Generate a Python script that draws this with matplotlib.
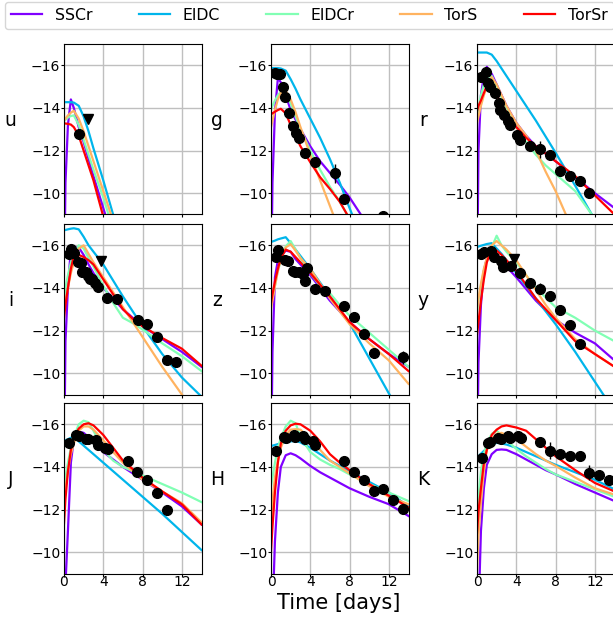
import numpy as np
import matplotlib
matplotlib.use("Agg")
from matplotlib import pyplot as plt

bands = ["u", "g", "r", "i", "z", "y", "J", "H", "K"]
model_names = ["SSCr", "EIDC", "EIDCr", "TorS", "TorSr"]

t_grid = [0, 0.15, 0.4, 0.7, 1.0, 1.5, 2.0, 2.5, 3.0, 4.0, 5.0, 6.0, 7.0, 8.0, 10.0, 12.0, 14.0]

sscr = {
    "u": [-5, -10.5, -13.2, -14.4, -14.0, -13.1, -12.4, -11.6, -10.8, -9.3, -7.8, -6.3, -5, -4, -3, -2, -1],
    "g": [-5, -10.5, -13.8, -15.4, -15.2, -14.6, -13.9, -13.45, -13.0, -12.2, -11.5, -10.95, -10.4, -9.8, -8.4, -7.5, -6.5],
    "r": [-5, -12.0, -14.6, -15.5, -15.93, -15.6, -15.1, -14.6, -14.1, -13.3, -12.7, -12.2, -11.85, -11.5, -10.75, -10.0, -9.3],
    "i": [-5, -11.5, -14.0, -15.85, -15.9, -15.9, -15.55, -15.1, -14.7, -14.0, -13.5, -13.0, -12.6, -12.2, -11.6, -11.0, -10.3],
    "z": [-5, -11.0, -14.5, -15.3, -15.5, -15.75, -15.7, -15.35, -15.1, -14.6, -14.0, -13.4, -12.9, -12.4, -11.6, -10.9, -10.3],
    "y": [-5, -10.5, -13.2, -14.8, -15.4, -15.87, -15.6, -15.3, -15.0, -14.5, -13.95, -13.4, -12.95, -12.5, -11.9, -11.4, -10.6],
    "J": [-5, -8.5, -11.0, -14.2, -15.3, -15.65, -15.6, -15.4, -15.2, -14.7, -14.35, -14.0, -13.7, -13.4, -12.8, -12.15, -11.3],
    "H": [-5, -7.0, -10.5, -12.8, -14.0, -14.55, -14.64, -14.55, -14.4, -14.05, -13.75, -13.5, -13.25, -13.0, -12.6, -12.25, -11.7],
    "K": [-5, -7.0, -11.0, -13.0, -14.1, -14.6, -14.8, -14.82, -14.8, -14.6, -14.35, -14.1, -13.85, -13.65, -13.2, -12.8, -12.4],
}
eidc = {
    "u": [-14.27, -14.27, -14.27, -14.27, -14.25, -14.1, -13.6, -12.9, -12.1, -10.6, -9.0, -7.5, -6, -5, -3, -1, 1],
    "g": [-15.87, -15.87, -15.87, -15.87, -15.85, -15.75, -15.35, -14.9, -14.4, -13.5, -12.6, -11.6, -10.5, -9.3, -7, -5, -3],
    "r": [-16.6, -16.6, -16.6, -16.6, -16.6, -16.5, -16.2, -15.85, -15.5, -14.8, -14.1, -13.4, -12.65, -11.9, -10.35, -8.75, -7],
    "i": [-16.7, -16.72, -16.75, -16.78, -16.8, -16.75, -16.4, -16.0, -15.7, -15.1, -14.35, -13.6, -12.9, -12.2, -10.9, -9.8, -8.9],
    "z": [-16.16, -16.18, -16.22, -16.28, -16.32, -16.38, -16.1, -15.8, -15.5, -14.9, -14.25, -13.6, -12.95, -12.35, -10.7, -9.05, -7.5],
    "y": [-15.92, -15.94, -15.98, -16.02, -16.06, -16.1, -15.85, -15.6, -15.3, -14.7, -14.1, -13.5, -12.9, -12.3, -11.0, -9.6, -8.2],
    "J": [-15.2, -15.25, -15.3, -15.37, -15.4, -15.2, -15.0, -14.8, -14.6, -14.2, -13.8, -13.4, -13.0, -12.6, -11.8, -10.95, -10.1],
    "H": [-14.98, -15.0, -15.03, -15.07, -15.1, -15.15, -15.2, -15.22, -15.15, -14.9, -14.6, -14.3, -14.05, -13.8, -13.3, -12.8, -12.15],
    "K": [-14.43, -14.5, -14.62, -14.75, -14.88, -15.05, -15.13, -15.1, -15.05, -14.9, -14.7, -14.5, -14.3, -14.1, -13.75, -13.4, -12.95],
}
eidcr = {
    "u": [-13.38, -13.45, -13.55, -13.62, -13.65, -13.2, -12.5, -11.8, -11.1, -9.8, -8.3, -7, -6, -5, -3, -1, 1],
    "g": [-13.93, -14.1, -14.35, -14.6, -14.75, -14.75, -14.2, -13.6, -13.0, -12.0, -11.1, -10.3, -9.6, -8.8, -7, -5, -3],
    "r": [-13.6, -14.0, -14.6, -15.1, -15.45, -15.5, -15.0, -14.5, -14.0, -13.1, -12.4, -11.8, -11.3, -10.9, -10.1, -8.8, -7.5],
    "i": [-13.5, -14.0, -14.6, -15.2, -15.6, -16.0, -15.85, -15.4, -15.0, -14.1, -13.3, -12.6, -12.35, -12.05, -11.4, -10.8, -10.1],
    "z": [-13.2, -13.5, -14.1, -14.8, -15.3, -15.95, -16.2, -15.8, -15.4, -14.7, -14.1, -13.75, -13.2, -12.7, -11.9, -11.1, -10.3],
    "y": [-12.9, -13.4, -14.1, -14.8, -15.3, -15.9, -16.45, -16.0, -15.7, -15.2, -14.6, -14.0, -13.55, -13.1, -12.6, -12.0, -11.5],
    "J": [-13.1, -13.5, -14.2, -14.9, -15.4, -16.0, -16.17, -16.1, -15.7, -14.8, -14.3, -14.0, -13.8, -13.6, -13.2, -12.8, -12.35],
    "H": [-13.1, -13.5, -14.2, -14.9, -15.35, -15.9, -16.17, -16.05, -15.4, -14.7, -14.35, -14.1, -13.9, -13.65, -13.2, -12.8, -12.4],
    "K": [-11.85, -12.6, -13.8, -14.6, -15.1, -15.55, -15.7, -15.5, -15.25, -14.85, -14.5, -14.2, -13.9, -13.65, -13.3, -12.95, -12.6],
}
tors = {
    "u": [-13.4, -13.5, -13.65, -13.78, -13.87, -13.5, -12.9, -12.2, -11.5, -10.1, -8.7, -7.3, -6, -5, -3, -1, 1],
    "g": [-13.1, -13.4, -13.9, -14.4, -14.7, -14.8, -14.4, -13.8, -13.1, -11.8, -10.6, -9.4, -8.2, -7, -5, -3, -1],
    "r": [-13.3, -13.6, -14.1, -14.6, -15.0, -15.45, -15.1, -14.6, -14.1, -13.3, -12.7, -12.0, -11.0, -10.1, -8.0, -6, -4],
    "i": [-13.0, -13.4, -14.0, -14.7, -15.2, -15.85, -16.0, -15.6, -15.2, -14.5, -13.8, -13.1, -12.4, -11.7, -10.3, -9.0, -7.7],
    "z": [-13.0, -13.4, -14.1, -14.8, -15.35, -15.9, -16.05, -15.75, -15.4, -14.9, -14.2, -13.5, -12.9, -12.3, -11.4, -10.6, -9.5],
    "y": [-13.0, -13.5, -14.2, -14.9, -15.4, -16.0, -16.2, -16.0, -15.8, -15.3, -14.6, -13.9, -13.2, -12.6, -11.6, -10.9, -10.3],
    "J": [-12.5, -13.0, -13.8, -14.6, -15.1, -15.7, -15.9, -15.9, -15.75, -15.25, -14.7, -14.2, -13.8, -13.4, -12.85, -12.3, -11.4],
    "H": [-11.5, -12.4, -13.5, -14.3, -14.9, -15.5, -15.75, -15.77, -15.75, -15.3, -14.8, -14.3, -14.0, -13.7, -13.1, -12.6, -12.25],
    "K": [-9.2, -10.8, -12.3, -13.8, -14.8, -15.3, -15.55, -15.6, -15.5, -15.3, -14.95, -14.6, -14.3, -14.05, -13.5, -13.0, -12.7],
}
torsr = {
    "u": [-13.27, -13.27, -13.25, -13.22, -13.1, -12.7, -12.0, -11.3, -10.6, -8.9, -7.5, -6, -5, -4, -2, 0, 2],
    "g": [-13.7, -13.75, -13.82, -13.9, -13.96, -13.75, -13.2, -12.7, -12.2, -11.45, -10.75, -10.2, -9.6, -8.8, -7, -5, -3],
    "r": [-13.85, -14.1, -14.35, -14.7, -15.05, -14.95, -14.6, -14.2, -13.8, -13.1, -12.6, -12.2, -11.85, -11.5, -10.8, -9.9, -9.0],
    "i": [-12.6, -13.2, -14.0, -14.9, -15.5, -15.55, -15.45, -15.3, -15.1, -14.4, -13.7, -13.0, -12.55, -12.2, -11.65, -11.15, -10.35],
    "z": [-13.3, -13.7, -14.3, -14.9, -15.4, -15.8, -15.7, -15.45, -15.2, -14.7, -14.15, -13.6, -13.0, -12.4, -11.6, -10.9, -10.1],
    "y": [-11.8, -12.4, -13.4, -14.4, -15.2, -15.85, -15.75, -15.55, -15.3, -14.8, -14.15, -13.5, -13.0, -12.5, -11.5, -10.9, -10.3],
    "J": [-11.35, -12.5, -13.8, -14.8, -15.4, -15.8, -16.0, -16.05, -15.95, -15.5, -14.9, -14.3, -13.9, -13.5, -12.85, -12.25, -11.3],
    "H": [-10.05, -11.2, -12.8, -14.2, -15.1, -15.7, -15.95, -16.03, -16.0, -15.7, -15.2, -14.6, -14.2, -13.85, -13.2, -12.65, -12.1],
    "K": [-10.9, -11.9, -13.0, -14.2, -14.8, -15.5, -15.75, -15.9, -15.95, -15.85, -15.7, -15.3, -14.9, -14.5, -13.85, -13.25, -12.85],
}

# observed photometry
obs_t = {
    "u": [1.53],
    "g": [0.44, 0.64, 0.92, 1.25, 1.46, 1.86, 2.27, 2.51, 2.85, 3.46, 4.44, 6.47, 7.46, 11.4],
    "r": [0.44, 0.88, 1.12, 1.36, 1.87, 2.2, 2.38, 2.76, 3.16, 3.4, 4.1, 4.35, 5.44, 6.46, 7.48, 8.47, 9.46, 10.44, 11.43],
    "i": [0.51, 0.75, 0.98, 1.42, 1.7, 1.86, 2.27, 2.44, 2.68, 2.88, 3.12, 3.46, 4.4, 5.42, 7.49, 8.47, 9.49, 10.47, 11.42],
    "z": [0.47, 0.71, 1.39, 1.73, 2.2, 2.47, 2.88, 3.29, 3.49, 3.69, 4.44, 5.46, 7.46, 8.44, 9.46, 10.44, 13.42],
    "y": [0.37, 0.68, 1.43, 1.73, 2.41, 2.69, 3.47, 4.42, 5.44, 6.46, 7.45, 8.47, 9.46, 10.48],
    "J": [0.51, 1.22, 1.49, 2.2, 2.47, 3.25, 3.46, 4.17, 4.47, 6.47, 7.46, 8.47, 9.49, 10.47],
    "H": [0.47, 1.29, 1.49, 2.31, 2.47, 3.29, 3.49, 4.27, 4.47, 7.46, 8.47, 9.46, 10.44, 11.42, 12.41, 13.42],
    "K": [0.48, 1.12, 1.36, 2.14, 2.41, 3.16, 3.4, 4.18, 4.46, 6.46, 7.48, 8.47, 9.46, 10.44, 11.43, 12.45, 13.43],
}
obs_mag = {
    "u": [-12.77],
    "g": [-15.62, -15.6, -15.58, -15.0, -14.52, -13.75, -13.16, -12.83, -12.6, -11.89, -11.45, -10.93, -9.74, -8.92],
    "r": [-15.47, -15.7, -15.15, -15.0, -14.68, -14.24, -13.9, -13.69, -13.38, -13.2, -12.73, -12.5, -12.23, -12.07, -11.78, -11.05, -10.82, -10.55, -10.0],
    "i": [-15.58, -15.84, -15.65, -15.2, -15.17, -14.75, -14.74, -14.55, -14.44, -14.4, -14.24, -14.04, -13.54, -13.49, -12.5, -12.33, -11.68, -10.63, -10.52],
    "z": [-15.45, -15.76, -15.32, -15.26, -14.78, -14.73, -14.73, -14.67, -14.32, -14.93, -13.96, -13.86, -13.14, -12.63, -11.84, -10.96, -10.74],
    "y": [-15.59, -15.67, -15.75, -15.45, -15.28, -14.96, -15.01, -14.7, -14.23, -13.97, -13.6, -12.97, -12.25, -11.35],
    "J": [-15.14, -15.49, -15.45, -15.32, -15.29, -15.26, -15.05, -14.9, -14.85, -14.27, -13.75, -13.37, -12.77, -11.98],
    "H": [-14.76, -15.39, -15.37, -15.48, -15.4, -15.45, -15.29, -15.22, -15.01, -14.28, -13.77, -13.37, -12.87, -12.97, -12.46, -12.03],
    "K": [-14.4, -15.11, -15.17, -15.37, -15.29, -15.45, -15.37, -15.45, -15.34, -15.17, -14.75, -14.59, -14.51, -14.51, -13.73, -13.6, -13.37],
}
obs_err = {
    "u": [0.1],
    "g": [0.05] * 11 + [0.45, 0.1, 0.2],
    "r": [0.05] * 13 + [0.4] + [0.05] * 5,
    "i": [0.05] * 19,
    "z": [0.05] * 16 + [0.3],
    "y": [0.05] * 9 + [0.25] + [0.05] * 4,
    "J": [0.05] * 14,
    "H": [0.05] * 14 + [0.1, 0.1],
    "K": [0.05] * 10 + [0.4, 0.1, 0.05, 0.05, 0.35, 0.1, 0.1],
}
# upper limits (triangles)
lim_t = {"u": [2.44], "i": [3.73], "y": [3.78]}
lim_mag = {"u": [-13.46], "i": [-15.26], "y": [-15.36]}

models = [sscr, eidc, eidcr, tors, torsr]
colors = plt.cm.rainbow(np.linspace(0, 1, 5))

W, H = 613, 619
fig = plt.figure(figsize=(W / 100, H / 100), dpi=100)

col_left = [64, 271, 477]
row_top = [44, 224, 403]
ax_w, ax_h = 137.5, 170.5

handles = []
for k, band in enumerate(bands):
    r, c = divmod(k, 3)
    ax = fig.add_axes([col_left[c] / W, 1 - (row_top[r] + ax_h) / H, ax_w / W, ax_h / H])
    for m, model in enumerate(models):
        ln, = ax.plot(t_grid, model[band], color=colors[m], lw=1.6, label=model_names[m])
        if k == 0:
            handles.append(ln)
    ax.errorbar(obs_t[band], obs_mag[band], yerr=obs_err[band], fmt='o', color='black',
                ms=7, elinewidth=1.0, capsize=0, zorder=5)
    if band in lim_t:
        ax.plot(lim_t[band], lim_mag[band], 'v', color='black', ms=7, zorder=5)

    ax.set_xlim(0, 14)
    ax.set_ylim(-9, -17)
    ax.set_xticks([0, 4, 8, 12])
    ax.set_yticks([-16, -14, -12, -10])
    ax.grid(True, color='0.75', lw=1.0)
    ax.tick_params(labelsize=10, length=2.2)
    ax.tick_params(axis='y', pad=0.4)
    ax.tick_params(axis='x', pad=-0.8)
    if r < 2:
        ax.set_xticklabels([])
    ax.text(-0.39, 0.55, band, transform=ax.transAxes, fontsize=13.5, ha='center', va='center')

fig.text(339 / W, 1 - 603 / H, "Time [days]", fontsize=15, ha='center', va='center')

fig.legend(handles=handles, loc='upper left', bbox_to_anchor=(4.5 / W, 1 - 1.7 / H), ncol=5,
           fontsize=11.3, columnspacing=2.95, handlelength=2.0, handletextpad=0.8,
           borderaxespad=0)

fig.savefig("out.png", dpi=100)
